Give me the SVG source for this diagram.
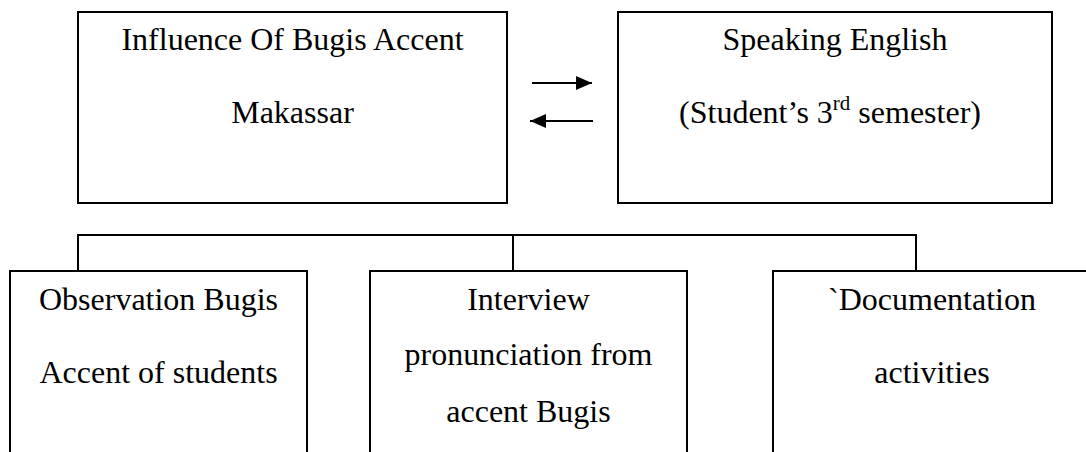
<svg xmlns="http://www.w3.org/2000/svg" width="1086" height="452" viewBox="0 0 1086 452">
<style>
.box{fill:#fff;stroke:#000;stroke-width:2}
.t{font-family:"Liberation Serif","Times New Roman",serif;font-size:32px;fill:#000;text-anchor:middle}
.c{stroke:#000;stroke-width:2;fill:none}
</style>
<defs>
<marker id="ah2" viewBox="0 0 16 14" refX="16" refY="7" markerWidth="16" markerHeight="14" markerUnits="userSpaceOnUse" orient="auto">
<path d="M0,0 L16,7 L0,14 Z" fill="#000"/>
</marker>
</defs>
<rect width="1086" height="452" fill="#fff"/>
<g id="connectors">
<line class="c" x1="532" y1="83" x2="592" y2="83" marker-end="url(#ah2)"/>
<line class="c" x1="593" y1="121" x2="530" y2="121" marker-end="url(#ah2)"/>
<polyline class="c" points="78,271 78,235 916,235 916,272"/>
<line class="c" x1="513" y1="235" x2="513" y2="271"/>
</g>
<g id="node-influence">
<rect class="box" x="78" y="12" width="429" height="191"/>
<text class="t" x="292.5" y="50">Influence Of Bugis Accent</text>
<text class="t" x="292.5" y="123">Makassar</text>
</g>
<g id="node-speaking">
<rect class="box" x="618" y="12" width="434" height="191"/>
<text class="t" x="835" y="50">Speaking English</text>
<text class="t" x="830" y="123">(Student’s 3<tspan dy="-13" font-size="21">rd</tspan><tspan dy="13"> semester)</tspan></text>
</g>
<g id="node-observation">
<rect class="box" x="10" y="271" width="297" height="200"/>
<text class="t" x="158.5" y="310">Observation Bugis</text>
<text class="t" x="158.5" y="383">Accent of students</text>
</g>
<g id="node-interview">
<rect class="box" x="370" y="271" width="317" height="200"/>
<text class="t" x="528.5" y="310">Interview</text>
<text class="t" x="528.5" y="365">pronunciation from</text>
<text class="t" x="528.5" y="422">accent Bugis</text>
</g>
<g id="node-documentation">
<rect class="box" x="773" y="271" width="318" height="200"/>
<text class="t" x="932" y="310">`Documentation</text>
<text class="t" x="932" y="383">activities</text>
</g>
</svg>
